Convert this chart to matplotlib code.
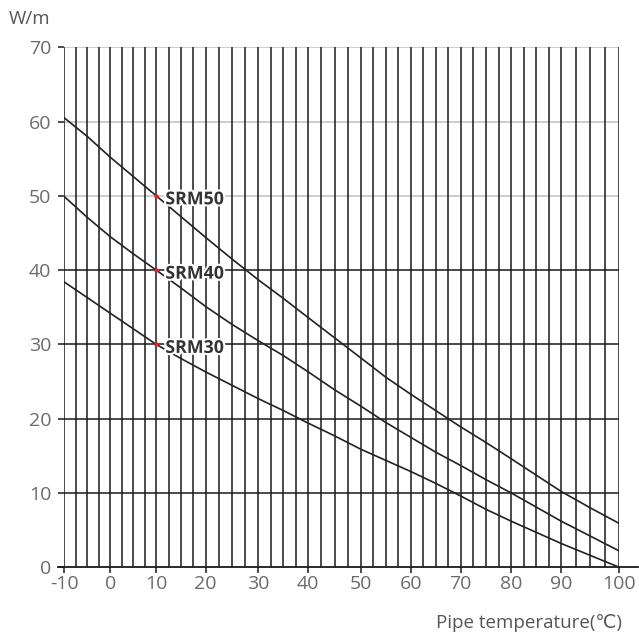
import numpy as np
import matplotlib
matplotlib.use("Agg")
import matplotlib.pyplot as plt
import matplotlib.patheffects as pe
from matplotlib.lines import Line2D

plt.rcParams['font.family'] = ['Open Sans', 'DejaVu Sans']

# ---- data ----
temps = [-10, -5, 0, 5, 10, 15, 20, 25, 30, 35, 40, 45, 50, 55, 60, 65, 70, 75, 80, 85, 90, 95, 100]
srm50 = [60.5, 58.0, 55.2, 52.6, 50.0, 47.2, 44.4, 41.5, 38.7, 36.2, 33.6, 30.9, 28.2,
         25.6, 23.3, 21.1, 18.9, 16.8, 14.6, 12.4, 10.2, 8.0, 5.9]
srm40 = [49.9, 47.1, 44.5, 42.2, 40.0, 37.6, 35.1, 32.7, 30.5, 28.5, 26.3, 23.9, 21.7,
         19.5, 17.5, 15.5, 13.7, 11.8, 10.0, 8.1, 6.2, 4.2, 2.2]
srm30 = [38.4, 36.3, 34.2, 32.1, 30.0, 28.1, 26.3, 24.5, 22.7, 21.1, 19.4, 17.7, 15.9,
         14.4, 12.9, 11.3, 9.6, 7.8, 6.2, 4.7, 3.2, 1.6, 0.0]
series = [("SRM50", srm50), ("SRM40", srm40), ("SRM30", srm30)]
label_temp = 10
label_vals = [50, 40, 30]
x_ticks = [-10, 0, 10, 20, 30, 40, 50, 60, 70, 80, 90, 100]
y_ticks = [0, 10, 20, 30, 40, 50, 60, 70]
x_label = "Pipe temperature(℃)"
y_label = "W/m"

# ---- uneven x scale of the original (tick spacing) ----
knot_pos = np.array([64.3, 110.3, 156.3, 205.7, 258.3, 308.3, 360.7,
                     410.7, 460.7, 511.3, 561.3, 619.3])
knot_val = np.array(x_ticks, float)

def _interp(v, xs, ys):
    v = np.asarray(v, float)
    out = np.interp(v, xs, ys)
    lo_s = (ys[1] - ys[0]) / (xs[1] - xs[0])
    hi_s = (ys[-1] - ys[-2]) / (xs[-1] - xs[-2])
    out = np.where(v < xs[0], ys[0] + (v - xs[0]) * lo_s, out)
    out = np.where(v > xs[-1], ys[-1] + (v - xs[-1]) * hi_s, out)
    return out

def fwd(v):
    return _interp(v, knot_val, knot_pos)

def inv(v):
    return _interp(v, knot_pos, knot_val)

W = H = 639
fig = plt.figure(figsize=(W / 100, H / 100), dpi=100)
ax = fig.add_axes([64.3 / W, 1 - 567.3 / H, (619.3 - 64.3) / W, (567.3 - 47.3) / H])
ax.set_xscale('function', functions=(fwd, inv))
ax.set_xlim(-10, 100)
ax.set_ylim(0, 70)

for s in ax.spines.values():
    s.set_visible(False)

dark = '#1a1a1a'
# horizontal grid
for yv in y_ticks[1:]:
    col = '#c0c0c0' if yv >= 50 else dark
    ax.plot([-10, 100], [yv, yv], color=col, lw=1.1, zorder=1, solid_capstyle='butt')
# vertical grid every 2.5
vx = np.arange(-10, 100.01, 2.5)
ax.vlines(vx, 0, 70, colors=dark, lw=1.1, zorder=2)

# x axis line extending beyond
ax.add_line(Line2D([-6 / 555, 1 + 19 / 555], [0, 0], transform=ax.transAxes,
                   color=dark, lw=1.3, clip_on=False, zorder=3))

# curves
for name, vals in series:
    ax.plot(temps, vals, color='#222222', lw=1.2, zorder=4)

for (name, _), v in zip(series, label_vals):
    ax.plot([label_temp], [v], 'o', color='#e8202a', ms=3.2, mec='none', zorder=6)
    ax.annotate(name, (label_temp, v), xytext=(6.5, -2.5), textcoords='offset points',
                ha='left', va='center', fontsize=12.8, fontweight='bold',
                color='#333333', zorder=7,
                path_effects=[pe.withStroke(linewidth=3, foreground='white')])

ax.set_xticks(x_ticks)
ax.set_xticklabels([str(t) for t in x_ticks])
ax.set_yticks(y_ticks)
ax.set_yticklabels([str(t) for t in y_ticks])
ax.xaxis.set_minor_locator(matplotlib.ticker.NullLocator())
ax.tick_params(axis='both', direction='out', length=4.3, width=1.1, color=dark,
               labelsize=14, labelcolor='#6b6b6b')
ax.tick_params(axis='x', pad=1)
ax.tick_params(axis='y', pad=5)

fig.text(9 / W, 1 - 19 / H, y_label, ha='left', va='center', fontsize=13.5, color='#555555')
fig.text(622 / W, 1 - 623 / H, x_label, ha='right', va='center', fontsize=13.5, color='#555555')

fig.savefig('out.png', dpi=100)
